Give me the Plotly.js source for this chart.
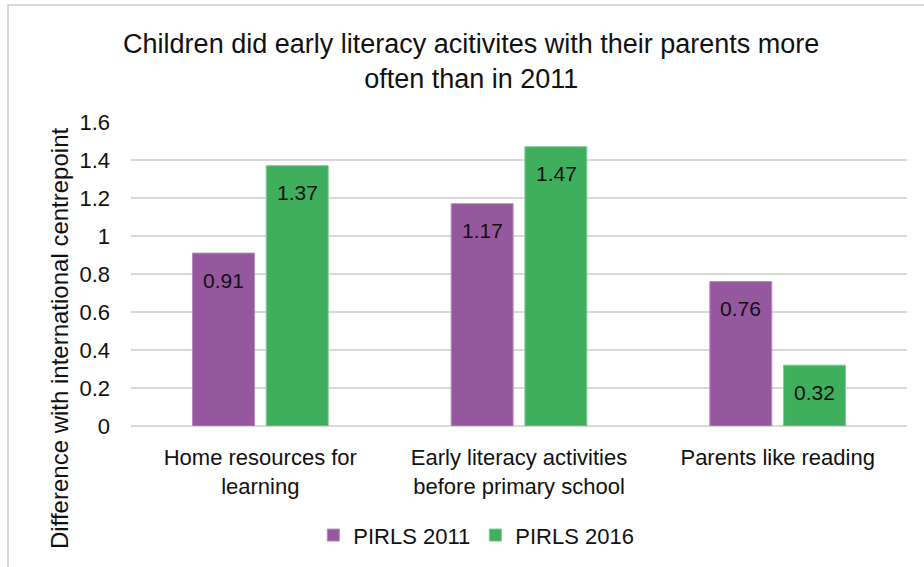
<!DOCTYPE html>
<html>
<head>
<meta charset="utf-8">
<script src="https://cdn.plot.ly/plotly-3.0.1.min.js"></script>
<style>
  html, body { margin: 0; padding: 0; background: #fff; }
  #wrap { position: relative; width: 924px; height: 567px; overflow: hidden; }
  #chart { position: absolute; left: 0; top: 0; width: 924px; height: 567px; }
  #frame { position: absolute; left: 7px; top: 4px; width: 940px; height: 600px;
           border-top: 2px solid #d9d9d9; border-left: 2px solid #d9d9d9; pointer-events: none; }
</style>
</head>
<body>
<div id="wrap">
  <div id="chart"></div>
  <div id="frame"></div>
</div>
<script>
const categories = ["Home resources for<br>learning", "Early literacy activities<br>before primary school", "Parents like reading"];
const series2011 = [0.91, 1.17, 0.76];
const series2016 = [1.37, 1.47, 0.32];
const seriesNames = ["PIRLS 2011", "PIRLS 2016"];
const yTicks = [0, 0.2, 0.4, 0.6, 0.8, 1, 1.2, 1.4, 1.6];
const yTickText = ["0", "0.2", "0.4", "0.6", "0.8", "1", "1.2", "1.4", "1.6"];

const purple = "#95579D";
const green = "#3FAE5D";
const font = "Liberation Sans, Arial, sans-serif";

const traces = [
  { type: "bar", name: seriesNames[0], x: categories, y: series2011,
    marker: { color: purple, line: { color: "#b58cbc", width: 1 } }, hoverinfo: "skip" },
  { type: "bar", name: seriesNames[1], x: categories, y: series2016,
    marker: { color: green, line: { color: "#7ccb92", width: 1 } }, hoverinfo: "skip" }
];

const annotations = [];
[series2011, series2016].forEach((vals, si) => {
  vals.forEach((v, i) => {
    annotations.push({
      xref: "x", yref: "y", x: categories[i], y: v,
      text: String(v), showarrow: false,
      xshift: si === 0 ? -37 : 37, yshift: -27,
      font: { family: font, size: 21, color: "#111" }
    });
  });
});
annotations.push({
  xref: "paper", yref: "paper", x: -0.093, y: 0.289,
  text: "Difference with international centrepoint", textangle: -90,
  showarrow: false, xanchor: "center", yanchor: "middle",
  font: { family: font, size: 24, color: "#111" }
});

const layout = {
  width: 924, height: 567,
  paper_bgcolor: "#fff", plot_bgcolor: "#fff",
  margin: { l: 131, r: 17, t: 122, b: 140 },
  title: {
    text: "Children did early literacy acitivites with their parents more<br>often than in 2011",
    font: { family: font, size: 27, color: "#111" },
    x: 0.51, xanchor: "center", y: 0.907, yanchor: "top"
  },
  barmode: "group", bargap: 0.43, bargroupgap: 0.16,
  xaxis: {
    type: "category", showgrid: false, showline: false, zeroline: false,
    ticks: "", ticklabelstandoff: 16,
    tickfont: { family: font, size: 22, color: "#111" }
  },
  yaxis: {
    range: [0, 1.6], tickvals: yTicks, ticktext: yTickText,
    showgrid: true, gridcolor: "#d9d9d9", gridwidth: 1.5,
    zeroline: true, zerolinecolor: "#d9d9d9", zerolinewidth: 1.5,
    showline: false, ticks: "", ticklabelstandoff: 20,
    tickfont: { family: font, size: 22, color: "#111" }
  },
  showlegend: true,
  legend: {
    orientation: "h", x: 0.445, xanchor: "center", y: -0.355, yanchor: "middle",
    font: { family: font, size: 22, color: "#111" }, itemwidth: 30,
    traceorder: "normal"
  },
  annotations: annotations
};

Plotly.newPlot("chart", traces, layout, { staticPlot: true, displayModeBar: false });
</script>
</body>
</html>
